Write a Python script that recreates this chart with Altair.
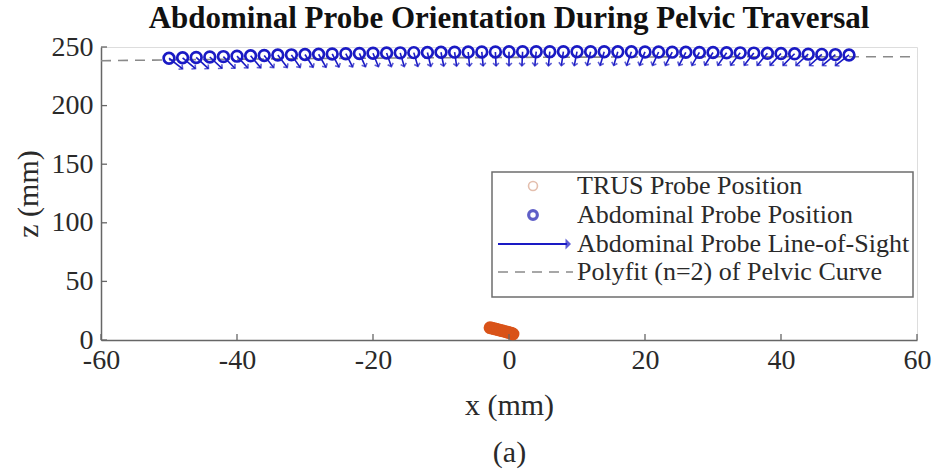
import math
import altair as alt
import pandas as pd

# ---------------- data ----------------
abd_x = [-50, -48, -46, -44, -42, -40, -38, -36, -34, -32, -30, -28, -26, -24, -22, -20,
         -18, -16, -14, -12, -10, -8, -6, -4, -2, 0, 2, 4, 6, 8, 10, 12, 14, 16, 18, 20,
         22, 24, 26, 28, 30, 32, 34, 36, 38, 40, 42, 44, 46, 48, 50]
abd_z = [240.4, 240.8, 241.1, 241.5, 241.8, 242.2, 242.5, 242.8, 243.1, 243.3, 243.6, 243.8,
         244.1, 244.3, 244.5, 244.7, 244.9, 245.0, 245.2, 245.3, 245.5, 245.6, 245.7, 245.8,
         245.8, 245.9, 246.0, 246.0, 246.0, 246.0, 246.0, 246.0, 246.0, 245.9, 245.9, 245.8,
         245.7, 245.6, 245.5, 245.4, 245.3, 245.1, 245.0, 244.8, 244.6, 244.4, 244.2, 243.9,
         243.7, 243.5, 243.2]
# line-of-sight vector components (mm)
los_u = [2.0, 1.9, 1.8, 1.8, 1.7, 1.6, 1.5, 1.4, 1.4, 1.3, 1.2, 1.1, 1.0, 1.0, 0.9, 0.8,
         0.7, 0.6, 0.6, 0.5, 0.4, 0.3, 0.2, 0.2, 0.1, 0.0, -0.1, -0.2, -0.2, -0.3, -0.4, -0.5,
         -0.6, -0.6, -0.7, -0.8, -0.9, -1.0, -1.0, -1.1, -1.2, -1.3, -1.4, -1.4, -1.5, -1.6,
         -1.7, -1.8, -1.8, -1.9, -2.0]
los_w = [-9.0, -9.2, -9.5, -9.7, -9.9, -10.1, -10.3, -10.4, -10.6, -10.8, -10.9, -11.1,
         -11.2, -11.3, -11.4, -11.5, -11.6, -11.7, -11.8, -11.8, -11.9, -11.9, -12.0, -12.0,
         -12.0, -12.0, -12.0, -12.0, -12.0, -11.9, -11.9, -11.8, -11.8, -11.7, -11.6, -11.5,
         -11.4, -11.3, -11.2, -11.1, -10.9, -10.8, -10.6, -10.4, -10.3, -10.1, -9.9, -9.7,
         -9.5, -9.2, -9.0]

trus_x = [-2.8, -2.5, -2.2, -1.9, -1.6, -1.3, -1.0, -0.7, -0.4, -0.1, 0.2, 0.4, 0.6]
trus_z = [10.5, 10.1, 9.7, 9.2, 8.8, 8.3, 7.9, 7.4, 7.0, 6.5, 6.0, 5.6, 5.2]

fit_x = [-60, -40, -20, 0, 20, 40, 60]
fit_z = [238.3, 239.6, 240.5, 241.1, 241.5, 241.7, 241.7]

x_ticks = [-60, -40, -20, 0, 20, 40, 60]
z_ticks = [0, 50, 100, 150, 200, 250]

legend_labels = ["TRUS Probe Position", "Abdominal Probe Position",
                 "Abdominal Probe Line-of-Sight", "Polyfit (n=2) of Pelvic Curve"]

title_text = "Abdominal Probe Orientation During Pelvic Traversal"
x_title = ["x (mm)", "(a)"]
z_title = "z (mm)"

# ---------------- styling ----------------
W, H = 816, 293
X_DOM = [-60, 60]
Z_DOM = [0, 250]
FONT = "Liberation Serif"
BLUE = "#1A1AC4"
ORANGE = "#D95319"
AXIS_C = "#666666"
TEXT_C = "#2a2a2a"
LABEL_EXPR = "datum.value < 0 ? '-' + abs(datum.value) : '' + datum.value"

px_per_x = W / (X_DOM[1] - X_DOM[0])
px_per_z = H / (Z_DOM[1] - Z_DOM[0])

abd = pd.DataFrame({"x": abd_x, "z": abd_z, "u": los_u, "w": los_w})
abd["xe"] = abd["x"] + abd["u"]
abd["ze"] = abd["z"] + abd["w"]
abd["ang"] = [
    math.degrees(math.atan2(-u * px_per_x, -w * px_per_z)) % 360
    for u, w in zip(abd["u"], abd["w"])
]
trus = pd.DataFrame({"x": trus_x, "z": trus_z})
fit = pd.DataFrame({"x": fit_x, "z": fit_z})
xt = pd.DataFrame({"x": x_ticks})
zt = pd.DataFrame({"z": z_ticks})
one = pd.DataFrame({"k": [0]})

xs = alt.Scale(domain=X_DOM, nice=False, zero=False)
zs = alt.Scale(domain=Z_DOM, nice=False, zero=False)

X = alt.X("x:Q", scale=xs, title=x_title,
          axis=alt.Axis(values=x_ticks, ticks=False, grid=False, domainColor=AXIS_C,
                        domainWidth=1.5, labelFont=FONT, labelFontSize=28,
                        labelExpr=LABEL_EXPR, labelFlush=False, labelOverlap=False,
                        labelColor=TEXT_C, labelPadding=6, titleFont=FONT,
                        titleFontSize=30, titleFontWeight="normal", titleColor=TEXT_C,
                        titlePadding=16, titleLineHeight=47))
Z = alt.Y("z:Q", scale=zs, title=z_title,
          axis=alt.Axis(values=z_ticks, ticks=False, grid=False, domainColor=AXIS_C,
                        domainWidth=1.5, labelFont=FONT, labelFontSize=28,
                        labelExpr=LABEL_EXPR, labelFlush=False, labelOverlap=False,
                        labelColor=TEXT_C, labelPadding=8, titleFont=FONT,
                        titleFontSize=30, titleFontWeight="normal", titleColor=TEXT_C,
                        titleX=-73, titleY=H / 2, titleBaseline="middle"))

base_axes = alt.Chart(fit).mark_line(opacity=0).encode(x=X, y=Z)

fit_line = alt.Chart(fit).mark_line(color="#8a8a8a", strokeDash=[10, 7], strokeWidth=1.6,
                                    interpolate="monotone").encode(
    x=alt.X("x:Q", scale=xs), y=alt.Y("z:Q", scale=zs))

shafts = alt.Chart(abd).mark_rule(color=BLUE, strokeWidth=1.6).encode(
    x=alt.X("x:Q", scale=xs), y=alt.Y("z:Q", scale=zs), x2="xe:Q", y2="ze:Q")

heads = alt.Chart(abd).mark_point(shape="M -1,-1 L 0,0 L 1,-1", filled=False,
                                  color=BLUE, strokeWidth=1.6, size=34).encode(
    x=alt.X("xe:Q", scale=xs), y=alt.Y("ze:Q", scale=zs),
    angle=alt.Angle("ang:Q", scale=None))

abd_pts = alt.Chart(abd).mark_point(shape="circle", filled=False, color=BLUE,
                                    strokeWidth=2.7, size=115, opacity=1).encode(
    x=alt.X("x:Q", scale=xs), y=alt.Y("z:Q", scale=zs))

trus_pts = alt.Chart(trus).mark_point(shape="circle", filled=False, color=ORANGE,
                                      strokeWidth=3, size=95, opacity=1).encode(
    x=alt.X("x:Q", scale=xs), y=alt.Y("z:Q", scale=zs))

# inward tick marks (MATLAB style)
x_tick_marks = alt.Chart(xt).mark_rule(color=AXIS_C, strokeWidth=1.3).encode(
    x=alt.X("x:Q", scale=xs), y=alt.value(H), y2=alt.value(H - 6))
z_tick_marks = alt.Chart(zt).mark_rule(color=AXIS_C, strokeWidth=1.3).encode(
    y=alt.Y("z:Q", scale=zs), x=alt.value(0), x2=alt.value(6))

# ---------------- manual legend ----------------
LX0, LX1, LY0, LY1 = 391, 812, 125, 250
ROW = [139, 168, 197, 225]
SYM_X = 432
TXT_X = 476
legend_layers = [
    alt.Chart(one).mark_rect(fill="white", stroke="#6e6e6e", strokeWidth=1.5).encode(
        x=alt.value(LX0), x2=alt.value(LX1), y=alt.value(LY0), y2=alt.value(LY1)),
    alt.Chart(one).mark_point(shape="circle", filled=False, color="#D9A48C",
                              strokeWidth=1.6, size=80).encode(
        x=alt.value(SYM_X), y=alt.value(ROW[0])),
    alt.Chart(one).mark_point(shape="circle", filled=False, color="#1C1CB0",
                              strokeWidth=3.2, size=75).encode(
        x=alt.value(SYM_X), y=alt.value(ROW[1])),
    alt.Chart(one).mark_rule(color=BLUE, strokeWidth=2).encode(
        x=alt.value(397), x2=alt.value(466), y=alt.value(ROW[2])),
    alt.Chart(one).mark_point(shape="M -1,-1 L 0,0 L 1,-1", filled=True, color=BLUE,
                              fill=BLUE, strokeWidth=2, size=120, angle=270).encode(
        x=alt.value(470), y=alt.value(ROW[2])),
    alt.Chart(one).mark_rule(color="#8a8a8a", strokeWidth=1.6, strokeDash=[10, 7]).encode(
        x=alt.value(397), x2=alt.value(472), y=alt.value(ROW[3])),
]
for lab, ry in zip(legend_labels, ROW):
    legend_layers.append(
        alt.Chart(one).mark_text(text=lab, align="left", baseline="middle", font=FONT,
                                 fontSize=26, color=TEXT_C).encode(
            x=alt.value(TXT_X), y=alt.value(ry)))

chart = alt.layer(
    base_axes, fit_line, shafts, heads, abd_pts, trus_pts,
    x_tick_marks, z_tick_marks, *legend_layers
).properties(
    width=W, height=H,
    title=alt.TitleParams(title_text, font=FONT, fontSize=31, fontWeight="bold",
                          color="#111111", anchor="middle", offset=-2),
    autosize=alt.AutoSizeParams(type="none"),
    padding={"left": 101, "top": 47, "right": 18, "bottom": 132},
).configure_view(stroke=None).configure(background="white")

chart.save("out.html", embed_options={"renderer": "svg", "actions": False})
